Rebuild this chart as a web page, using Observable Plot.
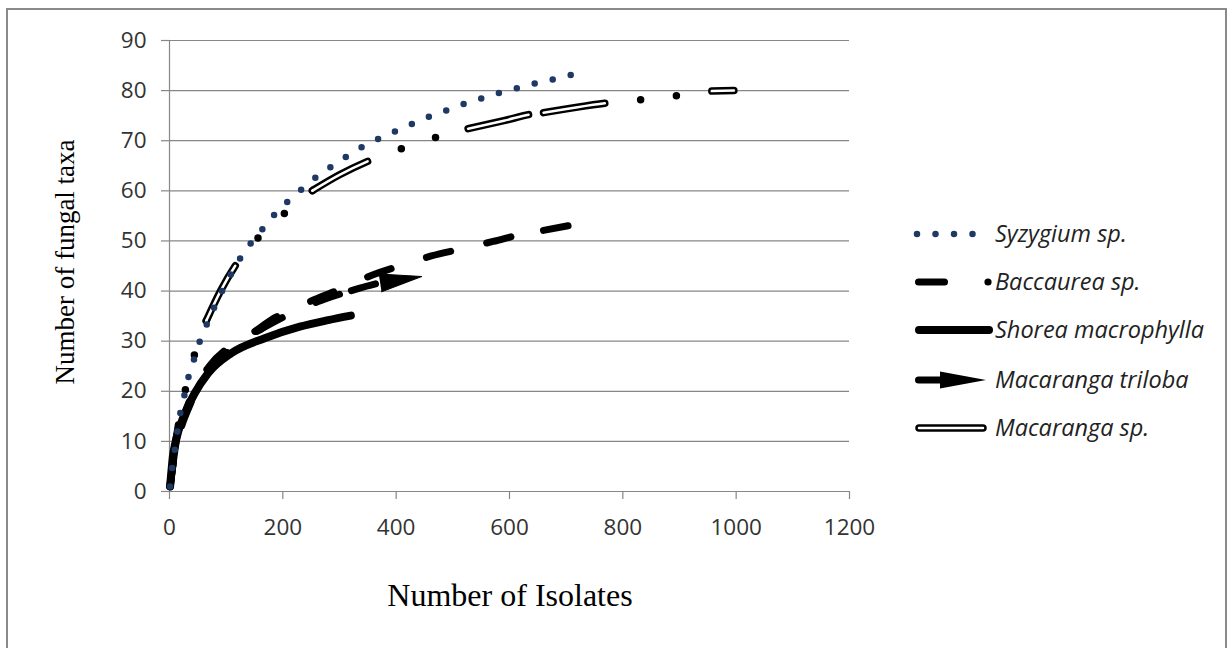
<!DOCTYPE html>
<html>
<head>
<meta charset="utf-8">
<script src="https://cdn.jsdelivr.net/npm/d3@7"></script>
<script src="https://cdn.jsdelivr.net/npm/@observablehq/plot@0.6"></script>
<style>
  html, body { margin: 0; padding: 0; background: #fff; }
  #wrap { position: relative; width: 1229px; height: 648px; overflow: hidden; background: #fff; }
  #border { position: absolute; left: 6px; top: 8px; width: 1221px; height: 720px; border: 2px solid #8a8a8a; box-sizing: border-box; }
  #chart { position: absolute; left: 0; top: 0; }
  #overlay { position: absolute; left: 0; top: 0; pointer-events: none; }
</style>
</head>
<body>
<div id="wrap">
  <div id="border"></div>
  <div id="chart"></div>
  <svg id="overlay" width="1229" height="648" xmlns="http://www.w3.org/2000/svg"></svg>
</div>
<script>
// ---------------- data ----------------
const xTicks = [0, 200, 400, 600, 800, 1000, 1200];
const yTicks = [0, 10, 20, 30, 40, 50, 60, 70, 80, 90];
const xTitle = "Number of Isolates";
const yTitle = "Number of fungal taxa";
const seriesNames = ["Syzygium sp.", "Baccaurea sp.", "Shorea macrophylla", "Macaranga triloba", "Macaranga sp."];

const syzygiumX = [1, 5, 10, 18, 25, 32, 41, 50, 62, 80, 100, 134, 155, 174, 194, 218, 242, 267, 293, 320, 347, 375, 405, 433, 462, 492, 523, 552, 583, 614, 644, 665, 695, 726];
const syzygiumY = [1, 5, 8.8, 15, 18.5, 22.2, 25.5, 28.9, 32.3, 37, 41.6, 48.1, 51.1, 53.7, 56.4, 58.7, 61.2, 63.4, 65.4, 67.4, 69.2, 70.7, 72.2, 73.6, 75.0, 76.2, 77.5, 78.5, 79.6, 80.5, 81.4, 81.9, 82.8, 83.5];

const baccaureaX = [1, 5, 10, 20, 35, 50, 70, 111, 153, 180, 212, 256, 306, 356, 409, 462, 515, 571, 624, 660, 707];
const baccaureaY = [1, 4.5, 8, 13, 18, 21.5, 25, 29.3, 32.1, 34.3, 36.1, 38.3, 40.6, 43.1, 45.1, 47.0, 48.4, 49.9, 51.4, 52.1, 53.1];
const baccaureaBreaks = [153, 660];   // points where the dash pattern restarts

const shoreaX = [1, 3, 6, 10, 15, 21, 30, 44, 68, 109, 168, 230, 280, 320];
const shoreaY = [1, 3.5, 7, 9.5, 11.8, 13.8, 16.3, 19.5, 23.6, 27.6, 30.6, 32.9, 34.2, 35.1];

const trilobaX = [1, 5, 10, 20, 35, 50, 70, 110, 160, 210, 260, 321, 370, 445];
const trilobaY = [1, 4.5, 8, 12.5, 17, 20.5, 23.8, 28.5, 32.3, 35.3, 37.8, 40.1, 41.6, 42.9];
const trilobaBreaks = [160, 321];

const macarangaX = [1, 5, 12, 20, 28, 44, 65, 90, 117, 157, 203, 253, 300, 350, 409, 471, 527, 590, 644, 660, 720, 778, 835, 898, 957, 996];
const macarangaY = [1, 4.8, 10.5, 16, 20.3, 27.3, 34.1, 40, 45.2, 50.7, 55.5, 60.1, 63.2, 65.9, 68.4, 70.7, 72.4, 74, 75.4, 75.6, 76.7, 77.6, 78.2, 79.0, 79.9, 80.0];
const macarangaBreaks = [65, 253, 527, 660, 957];

// ---------------- styles ----------------
const GRID = "#878787";
const NAVY = "#1f3864";
const SANS = "'Open Sans', 'Noto Sans', Lato, sans-serif";
const SERIF = "'Liberation Serif', 'DejaVu Serif', serif";
const DOT_DASH = "0 18.5";
const LONG_DASH = "25 37";
const LAST_DASH = "25 10000";
const MAC_OUTER = "62 36 0 36 0 36";
const MAC_INNER = "62 108";

const rows = (xs, ys) => xs.map((x, i) => ({x, y: ys[i]}));
function segmented(xs, ys, breaks) {
  const out = []; let seg = 0;
  xs.forEach((x, i) => {
    out.push({x, y: ys[i], seg});
    if (breaks.includes(x)) { seg++; out.push({x, y: ys[i], seg}); }
  });
  return out;
}
const syzygium = rows(syzygiumX, syzygiumY);
const baccaurea = segmented(baccaureaX, baccaureaY, baccaureaBreaks);
const shorea = rows(shoreaX, shoreaY);
const trilobaAll = segmented(trilobaX, trilobaY, trilobaBreaks);
const lastSeg = trilobaBreaks.length;
const trilobaBody = trilobaAll.filter(d => d.seg < lastSeg);
const trilobaEnd = trilobaAll.filter(d => d.seg === lastSeg);
const macaranga = segmented(macarangaX, macarangaY, macarangaBreaks);

const W = 1229, H = 648;

function build(arrowRotate) {
  const marks = [
    Plot.gridY(yTicks, {stroke: GRID, strokeOpacity: 1, strokeWidth: 1.2}),
    Plot.ruleX([0], {stroke: GRID, strokeWidth: 1.2}),
    Plot.axisY({ticks: yTicks, tickSize: 8, tickPadding: 15, stroke: GRID, strokeOpacity: 1, strokeWidth: 1.2, label: null, fontSize: 22.5, fill: "#333", tickFormat: d3.format("d")}),
    Plot.axisX({ticks: xTicks, tickSize: 8, tickPadding: 20, stroke: GRID, strokeOpacity: 1, strokeWidth: 1.2, label: null, fontSize: 22.5, fill: "#333", tickFormat: d3.format("d")}),
    // Macaranga sp. : double (compound) long-dash-dot-dot line
    Plot.line(macaranga, {x: "x", y: "y", z: "seg", curve: "monotone-x", stroke: "#000", strokeWidth: 7.5, strokeDasharray: MAC_OUTER, strokeLinecap: "round"}),
    Plot.line(macaranga, {x: "x", y: "y", z: "seg", curve: "monotone-x", stroke: "#fff", strokeWidth: 2.5, strokeDasharray: MAC_INNER, strokeLinecap: "round"}),
    // Macaranga triloba : long dash ending in a triangle arrow
    Plot.line(trilobaBody, {x: "x", y: "y", z: "seg", curve: "monotone-x", stroke: "#000", strokeWidth: 7, strokeLinecap: "round", strokeDasharray: LONG_DASH}),
    Plot.line(trilobaEnd, {x: "x", y: "y", curve: "monotone-x", stroke: "#000", strokeWidth: 7, strokeLinecap: "round", strokeDasharray: LAST_DASH}),
    Plot.vector(trilobaEnd.slice(-1), {x: "x", y: "y", shape: "spike", anchor: "end", length: 42, r: 9, rotate: arrowRotate, fill: "#000", stroke: "#000", strokeWidth: 1}),
    // Baccaurea sp. : long dash
    Plot.line(baccaurea, {x: "x", y: "y", z: "seg", curve: "monotone-x", stroke: "#000", strokeWidth: 7, strokeDasharray: LONG_DASH, strokeLinecap: "round"}),
    // Shorea macrophylla : solid
    Plot.line(shorea, {x: "x", y: "y", curve: "monotone-x", stroke: "#000", strokeWidth: 8, strokeLinecap: "round"}),
    // Syzygium sp. : round dots
    Plot.line(syzygium, {x: "x", y: "y", curve: "monotone-x", stroke: NAVY, strokeWidth: 6.5, strokeDasharray: DOT_DASH, strokeLinecap: "round"})
  ];
  return Plot.plot({
    width: W, height: H,
    marginLeft: 169, marginRight: 380, marginTop: 40, marginBottom: 157,
    x: {domain: [0, 1200]},
    y: {domain: [0, 90]},
    style: {fontFamily: SANS, fontSize: "22px", background: "transparent", color: "#333", overflow: "visible"},
    marks
  });
}

// first pass: scales give the pixel direction of the last triloba segment
const p0 = build(90);
const sx = p0.scale("x"), sy = p0.scale("y");
const a = trilobaEnd[trilobaEnd.length - 2], b = trilobaEnd[trilobaEnd.length - 1];
const dxp = sx.apply(b.x) - sx.apply(a.x), dyp = sy.apply(b.y) - sy.apply(a.y);
const rot = Math.atan2(dxp, -dyp) * 180 / Math.PI;
const plot = build(rot);
document.getElementById("chart").appendChild(plot);

// ---------------- titles & legend (overlay) ----------------
const NS = "http://www.w3.org/2000/svg";
const ov = document.getElementById("overlay");
function el(tag, attrs, text) {
  const e = document.createElementNS(NS, tag);
  for (const k in attrs) e.setAttribute(k, attrs[k]);
  if (text != null) e.textContent = text;
  ov.appendChild(e);
  return e;
}
el("text", {x: 510, y: 606, "text-anchor": "middle", "font-family": SERIF, "font-size": 32, fill: "#000"}, xTitle);
el("text", {transform: "translate(74,262) rotate(-90)", "text-anchor": "middle", "font-family": SERIF, "font-size": 27, fill: "#000"}, yTitle);

const legendY = [234, 282, 330, 380, 428];
const TX = 995;
// Syzygium
el("line", {x1: 917, y1: legendY[0], x2: 975, y2: legendY[0], stroke: NAVY, "stroke-width": 6.5, "stroke-dasharray": DOT_DASH, "stroke-linecap": "round"});
// Baccaurea
el("line", {x1: 918.5, y1: legendY[1], x2: 944.5, y2: legendY[1], stroke: "#000", "stroke-width": 7, "stroke-linecap": "round"});
el("circle", {cx: 988, cy: legendY[1], r: 3.6, fill: "#000"});
// Shorea
el("line", {x1: 919, y1: legendY[2], x2: 989, y2: legendY[2], stroke: "#000", "stroke-width": 8, "stroke-linecap": "round"});
// Triloba
el("line", {x1: 918.5, y1: legendY[3], x2: 945, y2: legendY[3], stroke: "#000", "stroke-width": 7, "stroke-linecap": "round"});
el("path", {d: `M940,${legendY[3] - 8.5}L986,${legendY[3]}L940,${legendY[3] + 8.5}Z`, fill: "#000"});
// Macaranga sp.
el("line", {x1: 919, y1: legendY[4], x2: 983, y2: legendY[4], stroke: "#000", "stroke-width": 7.5, "stroke-linecap": "round"});
el("line", {x1: 919, y1: legendY[4], x2: 983, y2: legendY[4], stroke: "#fff", "stroke-width": 2.5, "stroke-linecap": "round"});
seriesNames.forEach((n, i) => {
  el("text", {x: TX, y: legendY[i] + 7.5, "font-family": SANS, "font-style": "italic", "font-size": 23.5, fill: "#222"}, n);
});
</script>
</body>
</html>
